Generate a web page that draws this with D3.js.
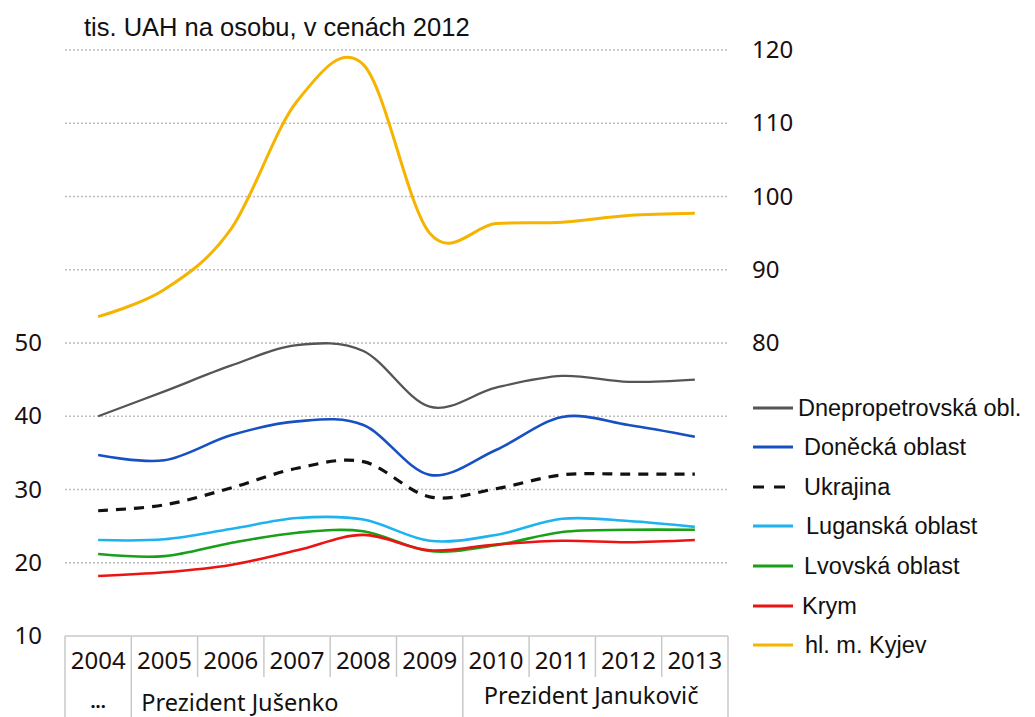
<!DOCTYPE html>
<html>
<head>
<meta charset="utf-8">
<script src="https://cdn.jsdelivr.net/npm/d3@7"></script>
<style>
  body { margin: 0; background: #fff; }
  svg { display: block; }
</style>
</head>
<body>
<div id="chart"></div>
<script>
// data, thousands UAH per person (2012 prices)
var years = [2004, 2005, 2006, 2007, 2008, 2009, 2010, 2011, 2012, 2013];
var dnepro   = [40.0, 43.4, 46.9, 49.7, 48.9, 41.3, 43.9, 45.5, 44.7, 45.0];
var donetsk  = [34.7, 34.0, 37.4, 39.3, 38.8, 32.0, 35.4, 39.9, 38.8, 37.2];
var ukrajina = [27.1, 27.9, 30.2, 32.9, 33.8, 29.0, 30.1, 32.0, 32.1, 32.1];
var lugansk  = [23.1, 23.2, 24.6, 26.1, 25.9, 23.0, 23.8, 26.0, 25.7, 24.9];
var lvov     = [21.2, 20.9, 22.7, 24.1, 24.3, 21.6, 22.4, 24.2, 24.5, 24.5];
var krym     = [18.2, 18.7, 19.7, 21.7, 23.8, 21.7, 22.5, 23.0, 22.8, 23.1];
var kyjev    = [83.6, 87.3, 95.5, 113.0, 118.0, 95.0, 96.3, 96.5, 97.4, 97.7];

var leftTicks = [10, 20, 30, 40, 50];
var rightTicks = [80, 90, 100, 110, 120];

var seriesNames = ["Dnepropetrovská obl.", "Doněcká oblast", "Ukrajina", "Luganská oblast", "Lvovská oblast", "Krym", "hl. m. Kyjev"];
var seriesValues = [dnepro, donetsk, ukrajina, lugansk, lvov, krym, kyjev];
var seriesColors = ["#555555", "#1650c2", "#111111", "#1cb3f0", "#18a018", "#ec1313", "#f6b400"];

var presidents = ["...", "Prezident Jušenko", "Prezident Janukovič"];
var presidentStart = [2004, 2005, 2010];
var presidentEnd = [2004, 2009, 2013];

var title = "tis. UAH na osobu, v cenách 2012";

var width = 1035, height = 717;
var svg = d3.select("#chart").append("svg")
  .attr("width", width)
  .attr("height", height);

var x = d3.scaleBand().domain(years).range([65, 728]);
var xc = function(yr) { return x(yr) + x.bandwidth() / 2; };
// left axis for regions, right axis (shifted by 30) for Kyjev
var yLeft = d3.scaleLinear().domain([10, 50]).range([636, 343]);
var yRight = d3.scaleLinear().domain([80, 120]).range([343, 50]);

var numFont = "'Noto Sans', sans-serif";
var txtFont = "'Liberation Sans', Arial, sans-serif";

// title
svg.append("text")
  .attr("x", 84)
  .attr("y", 36)
  .attr("fill", "#111")
  .style("font", "25.5px " + txtFont)
  .text(title);

// dotted grid
var grid = svg.append("g");
leftTicks.filter(function(v) { return v > 10; }).forEach(function(v) {
  grid.append("line")
    .attr("x1", 65).attr("x2", 727)
    .attr("y1", yLeft(v)).attr("y2", yLeft(v))
    .attr("stroke", "#bdbdbd")
    .attr("stroke-width", 1.3)
    .attr("stroke-dasharray", "2,2");
});
rightTicks.filter(function(v) { return v > 80; }).forEach(function(v) {
  grid.append("line")
    .attr("x1", 65).attr("x2", 727)
    .attr("y1", yRight(v)).attr("y2", yRight(v))
    .attr("stroke", "#bdbdbd")
    .attr("stroke-width", 1.3)
    .attr("stroke-dasharray", "2,2");
});

// axes
var leftAxis = svg.append("g")
  .attr("transform", "translate(42,0)")
  .call(d3.axisLeft(yLeft).tickValues(leftTicks).tickSize(0).tickPadding(0));
var rightAxis = svg.append("g")
  .attr("transform", "translate(752,0)")
  .call(d3.axisRight(yRight).tickValues(rightTicks).tickSize(0).tickPadding(0));
[leftAxis, rightAxis].forEach(function(a) {
  a.select(".domain").remove();
  a.selectAll("text")
    .attr("fill", "#1a1010")
    .style("font", "24px " + numFont);
});

// year table
var table = svg.append("g");
var tableColor = "#c9c9c9";
table.append("line")
  .attr("x1", 65).attr("x2", 728)
  .attr("y1", 636).attr("y2", 636)
  .attr("stroke", tableColor).attr("stroke-width", 1.5);
years.forEach(function(yr, i) {
  var full = presidentStart.indexOf(yr) >= 0;
  table.append("line")
    .attr("x1", x(yr)).attr("x2", x(yr))
    .attr("y1", 636).attr("y2", full ? height : 677)
    .attr("stroke", tableColor).attr("stroke-width", 1.5);
});
table.append("line")
  .attr("x1", 728).attr("x2", 728)
  .attr("y1", 636).attr("y2", height)
  .attr("stroke", tableColor).attr("stroke-width", 1.5);

var xAxis = svg.append("g")
  .attr("transform", "translate(0,636)")
  .call(d3.axisBottom(x).tickSize(0).tickPadding(16));
xAxis.select(".domain").remove();
xAxis.selectAll("text")
  .attr("fill", "#1a1010")
  .style("font", "24px " + numFont);

var presY = [708, 711, 704];
presidents.forEach(function(p, i) {
  var t = table.append("text")
    .attr("y", presY[i])
    .attr("fill", "#111")
    .style("font", "23.5px " + numFont)
    .text(p);
  if (i == 0) {
    t.attr("x", xc(presidentStart[i])).attr("text-anchor", "middle").style("font-weight", "bold").style("font-size", "18px");
  } else if (i == 1) {
    t.attr("x", x(presidentStart[i]) + 10);
  } else {
    t.attr("x", x(presidentStart[i]) + 21);
  }
});

// lines
var line = d3.line().curve(d3.curveCatmullRom.alpha(0));
seriesValues.forEach(function(vals, i) {
  var yScale = (i == 6) ? yRight : yLeft;
  var pts = years.map(function(yr, j) { return [xc(yr), yScale(vals[j])]; });
  var path = svg.append("path")
    .attr("d", line(pts))
    .attr("fill", "none")
    .attr("stroke", seriesColors[i])
    .attr("stroke-width", i == 0 ? 2.3 : (i == 6 ? 3 : 2.6))
    .attr("stroke-linecap", "butt");
  if (i == 2) path.attr("stroke-dasharray", "10,8").attr("stroke-width", 3.2);
});

// legend
var legendY = [408, 447, 487, 526, 566, 606, 645];
var legendTextX = [798, 804, 804, 806, 804, 802, 805];
var legend = svg.append("g");
seriesNames.forEach(function(name, i) {
  var l = legend.append("line")
    .attr("x1", 753).attr("x2", 793)
    .attr("y1", legendY[i]).attr("y2", legendY[i])
    .attr("stroke", seriesColors[i])
    .attr("stroke-width", 3);
  if (i == 2) l.attr("x2", 786).attr("stroke-dasharray", "11,10");
  legend.append("text")
    .attr("x", legendTextX[i])
    .attr("y", legendY[i])
    .attr("dy", "0.35em")
    .attr("fill", "#111")
    .style("font", "23.5px " + txtFont)
    .text(name);
});
</script>
</body>
</html>
